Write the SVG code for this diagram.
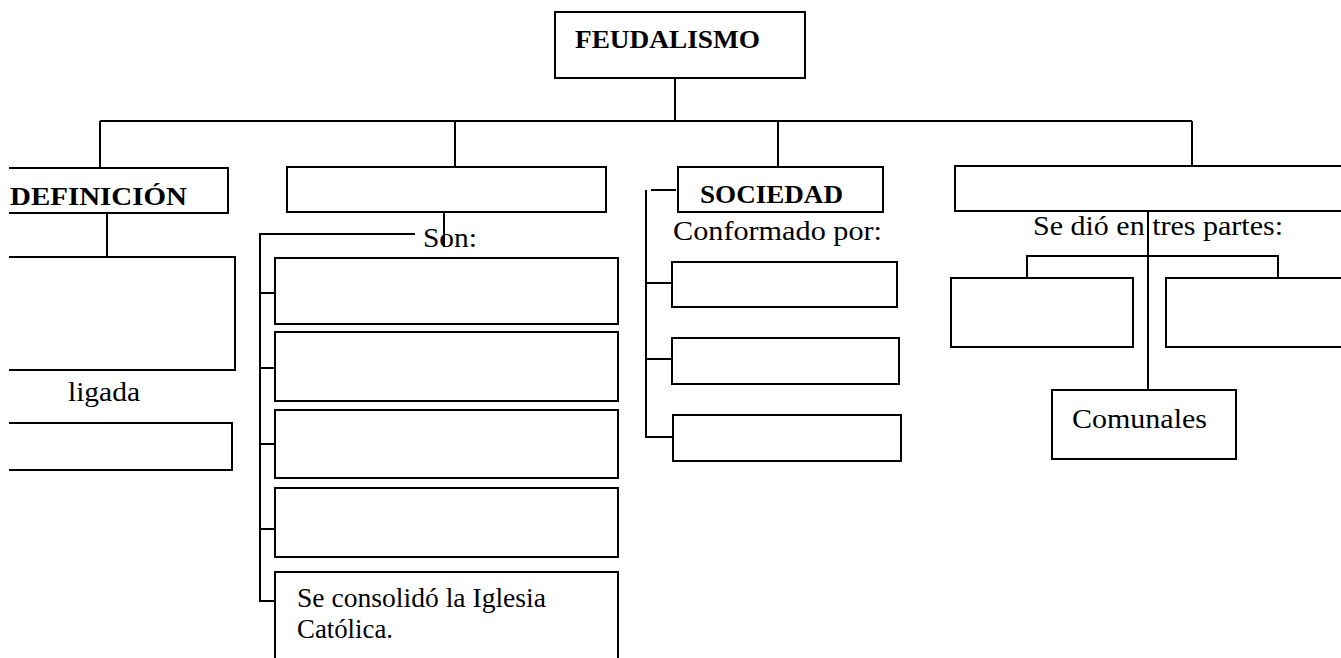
<svg xmlns="http://www.w3.org/2000/svg" width="1341" height="658" viewBox="0 0 1341 658">
<style>
.b{fill:#fff;stroke:#000;stroke-width:2}
.c{fill:none;stroke:#000;stroke-width:2}
.t{font-family:"Liberation Serif","Times New Roman",serif;font-size:28px;fill:#000}
.tb{font-family:"Liberation Serif","Times New Roman",serif;font-size:26px;font-weight:bold;fill:#000}
</style>
<rect width="1341" height="658" fill="#fff"/>
<g id="connectors">
<path class="c" d="M675 78V121M100 121H1192M100 121V168M455 121V167M778 121V167M1192 121V166"/>
<path class="c" d="M107 213V257"/>
<path class="c" d="M444 212V247M415 234H260V601H279M260 293H279M260 368H279M260 444H279M260 529H279"/>
<path class="c" d="M676 190H651M646 190V437H672M646 283H672M646 359H672"/>
<path class="c" d="M1148 211V390M1027 278V256H1278V278"/>
</g>
<g id="feudalismo">
<rect class="b" x="555" y="12" width="250" height="66"/>
<text class="tb" x="575" y="48" textLength="185" lengthAdjust="spacingAndGlyphs">FEUDALISMO</text>
</g>
<g id="definicion">
<path class="b" d="M9 168H228V213H9"/>
<text class="tb" x="10" y="205" textLength="177" lengthAdjust="spacingAndGlyphs">DEFINICIÓN</text>
</g>
<g id="def-box1">
<path class="b" d="M9 257H235V370H9"/>
</g>
<g id="ligada">
<text class="t" x="68" y="401" textLength="72" lengthAdjust="spacingAndGlyphs">ligada</text>
</g>
<g id="def-box2">
<path class="b" d="M9 423H232V470H9"/>
</g>
<g id="col2-head">
<rect class="b" x="287" y="167" width="319" height="45"/>
</g>
<g id="son">
<text class="t" x="423" y="247" textLength="54" lengthAdjust="spacingAndGlyphs">Son:</text>
</g>
<g id="son-1"><rect class="b" x="275" y="258" width="343" height="66"/></g>
<g id="son-2"><rect class="b" x="275" y="332" width="343" height="69"/></g>
<g id="son-3"><rect class="b" x="275" y="410" width="343" height="68"/></g>
<g id="son-4"><rect class="b" x="275" y="488" width="343" height="69"/></g>
<g id="son-5">
<path class="b" d="M275 665V572H618V665"/>
<text class="t" x="297" y="607" textLength="249" lengthAdjust="spacingAndGlyphs">Se consolidó la Iglesia</text>
<text class="t" x="297" y="638" textLength="96" lengthAdjust="spacingAndGlyphs">Católica.</text>
</g>
<g id="sociedad">
<rect class="b" x="678" y="167" width="205" height="45"/>
<text class="tb" x="700" y="203" textLength="143" lengthAdjust="spacingAndGlyphs">SOCIEDAD</text>
</g>
<g id="conformado">
<text class="t" x="673" y="240" textLength="209" lengthAdjust="spacingAndGlyphs">Conformado por:</text>
</g>
<g id="soc-1"><rect class="b" x="672" y="262" width="225" height="45"/></g>
<g id="soc-2"><rect class="b" x="672" y="338" width="227" height="46"/></g>
<g id="soc-3"><rect class="b" x="673" y="415" width="228" height="46"/></g>
<g id="col4-head">
<path class="b" d="M1350 166H955V211H1350"/>
</g>
<g id="tres-partes">
<text class="t" x="1033" y="235" textLength="250" lengthAdjust="spacingAndGlyphs">Se dió en tres partes:</text>
</g>
<g id="parte-1"><rect class="b" x="951" y="278" width="182" height="69"/></g>
<g id="parte-2"><path class="b" d="M1350 278H1166V347H1350"/></g>
<g id="comunales">
<rect class="b" x="1052" y="390" width="184" height="69"/>
<text class="t" x="1072" y="428" textLength="135" lengthAdjust="spacingAndGlyphs">Comunales</text>
</g>
</svg>
